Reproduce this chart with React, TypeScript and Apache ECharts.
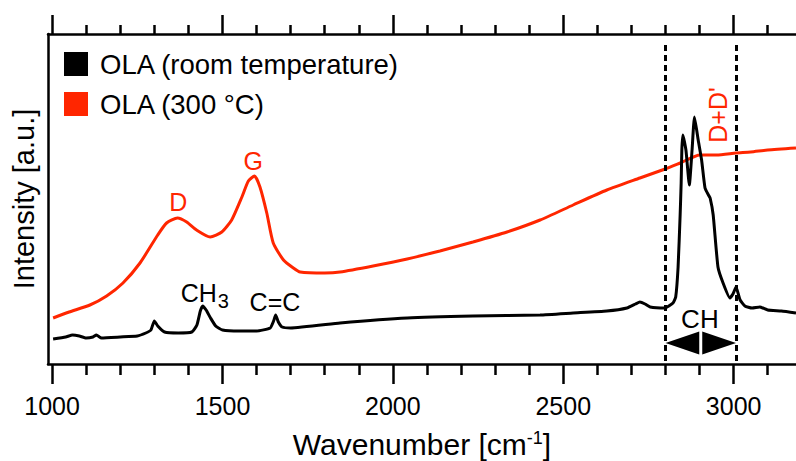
import React, { useEffect, useRef } from "react";
import * as echarts from "echarts";

// Raman spectra (wavenumber in cm^-1, intensity in arbitrary units)
const wavenumberRT = [
  1003, 1040, 1060, 1080, 1100, 1120, 1130, 1145, 1200, 1250, 1275, 1290, 1300, 1310, 1330, 1370, 1410,
  1425, 1435, 1442, 1452, 1465, 1480, 1500, 1550, 1600, 1640, 1650, 1656, 1664, 1675, 1700, 1845, 2042,
  2235, 2432, 2529, 2628, 2687, 2712, 2725, 2740, 2755, 2799, 2822, 2830, 2837, 2843, 2846, 2848, 2851,
  2860, 2870, 2878, 2885, 2896, 2906, 2916, 2926, 2931, 2940, 2954, 2969, 2989, 2998, 3007, 3019, 3033,
  3054, 3077, 3100, 3140, 3183,
];
const intensityRT = [
  25, 27, 29, 28, 26, 27, 29, 26, 27, 28, 31, 34, 43, 38, 32, 31, 32,
  39, 53, 58, 54, 46, 38, 34, 33, 33, 36, 43, 49, 42, 37, 36, 41, 46,
  48, 49, 51, 53, 56, 60, 62, 60, 57, 56, 61, 67, 97, 149, 181, 214, 229,
  214, 179, 214, 247, 224, 204, 176, 169, 166, 149, 97, 81, 66, 70, 77, 64, 58,
  56, 57, 54, 53, 51,
];
const wavenumber300 = [
  1003, 1050, 1111, 1160, 1208, 1258, 1310, 1336, 1368, 1395, 1424, 1464, 1498, 1527, 1557, 1576, 1594,
  1610, 1630, 1649, 1679, 1708, 1728, 1800, 1845, 1942, 2042, 2138, 2235, 2335, 2432, 2529, 2628, 2725,
  2799, 2843, 2901, 2950, 3007, 3050, 3100, 3183,
];
const intensity300 = [
  46, 52, 59, 68, 81, 101, 129, 141, 146, 142, 134, 127, 132, 144, 167, 183, 188,
  177, 151, 121, 104, 96, 92, 91, 92, 98, 105, 113, 122, 132, 144, 159, 174, 186,
  195, 201, 209, 209, 211, 212, 214, 216,
];

const seriesNames = ["OLA (room temperature)", "OLA (300 °C)"];
const seriesColors = ["#000000", "#ff2600"];

const majorTicks = [1000, 1500, 2000, 2500, 3000];
const minorTicks = [1100, 1200, 1300, 1400, 1600, 1700, 1800, 1900, 2100, 2200, 2300, 2400, 2600, 2700, 2800, 2900, 3100];
const xMin = 988;
const xMax = 3183;
const yMin = 0;
const yMax = 330;

// C-H stretching region boundaries
const chRegion = [2800, 3007];
const chLineTop = 319;
const chArrowLevel = 21;

// annotations: text, anchor wavenumber, anchor intensity
const annotationTexts = ["D", "G", "CH{sub|3}", "C=C", "CH", "D+D'"];
const annotationWavenumbers = [1370, 1590, 1448, 1654, 2901, 2954];
const annotationIntensities = [162, 203, 71, 62, 45, 249];
const annotationColors = ["#ff2600", "#ff2600", "#000000", "#000000", "#000000", "#ff2600"];
const annotationRotated = [false, false, false, false, false, true];

const FONT = "'Liberation Sans', Arial, Helvetica, sans-serif";

export default function App() {
  const ref = useRef<HTMLDivElement>(null);

  useEffect(() => {
    if (!ref.current) return;
    const chart = echarts.init(ref.current, undefined, { renderer: "svg" });

    const xBase = {
      type: "value",
      min: xMin,
      max: xMax,
      splitLine: { show: false },
      nameMoveOverlap: false,
    };
    const axisLineStyle = { color: "#000", width: 2.5 };

    const option: any = {
      animation: false,
      backgroundColor: "#fff",
      textStyle: { fontFamily: FONT },
      grid: { left: 48, right: 0, top: 34, bottom: 97, containLabel: false, outerBoundsMode: "none" },
      legend: {
        data: seriesNames,
        orient: "vertical",
        left: 64,
        top: 50,
        padding: 0,
        itemWidth: 24,
        itemHeight: 24,
        itemGap: 12,
        icon: "rect",
        selectedMode: false,
        textStyle: { fontSize: 27.5, color: "#000", fontFamily: FONT, padding: [0, 0, 0, 7] },
      },
      xAxis: [
        {
          ...xBase,
          position: "bottom",
          name: "Wavenumber [cm{sup|-1}]",
          nameLocation: "middle",
          nameGap: 65,
          nameTextStyle: {
            fontSize: 30,
            color: "#000",
            fontFamily: FONT,
            rich: {
              sup: { fontSize: 18, verticalAlign: "top", color: "#000", fontFamily: FONT },
            },
          },
          axisLine: { show: true, lineStyle: axisLineStyle },
          axisTick: { show: true, inside: false, length: 20, customValues: majorTicks, lineStyle: axisLineStyle },
          axisLabel: {
            show: true,
            customValues: majorTicks,
            fontSize: 25,
            color: "#000",
            margin: 29,
            fontFamily: FONT,
            formatter: (v: number) => String(v),
          },
        },
        {
          ...xBase,
          position: "bottom",
          axisLine: { show: false },
          axisTick: { show: true, inside: false, length: 11, customValues: minorTicks, lineStyle: axisLineStyle },
          axisLabel: { show: false },
        },
        {
          ...xBase,
          position: "top",
          axisLine: { show: true, lineStyle: axisLineStyle },
          axisTick: { show: true, inside: false, length: 19, customValues: majorTicks, lineStyle: axisLineStyle },
          axisLabel: { show: false },
        },
        {
          ...xBase,
          position: "top",
          axisLine: { show: false },
          axisTick: { show: true, inside: false, length: 9, customValues: minorTicks, lineStyle: axisLineStyle },
          axisLabel: { show: false },
        },
      ],
      yAxis: {
        type: "value",
        min: yMin,
        max: yMax,
        position: "left",
        name: "Intensity [a.u.]",
        nameLocation: "middle",
        nameGap: 10,
        nameMoveOverlap: false,
        nameTextStyle: { fontSize: 29, color: "#000", fontFamily: FONT },
        axisLine: { show: true, lineStyle: axisLineStyle },
        axisTick: { show: false },
        axisLabel: { show: false },
        splitLine: { show: false },
      },
      series: [
        {
          name: seriesNames[1],
          type: "line",
          xAxisIndex: 0,
          data: wavenumber300.map((w, i) => [w, intensity300[i]]),
          showSymbol: false,
          smooth: 0.2,
          lineStyle: { color: seriesColors[1], width: 3 },
          itemStyle: { color: seriesColors[1] },
          z: 2,
        },
        {
          name: seriesNames[0],
          type: "line",
          xAxisIndex: 0,
          data: wavenumberRT.map((w, i) => [w, intensityRT[i]]),
          showSymbol: false,
          smooth: 0.15,
          lineStyle: { color: seriesColors[0], width: 3 },
          itemStyle: { color: seriesColors[0] },
          z: 3,
          markLine: {
            silent: true,
            symbol: "none",
            label: { show: false },
            lineStyle: { color: "#000", width: 3, type: [6, 4] },
            data: chRegion.map((x) => [{ coord: [x, chLineTop] }, { coord: [x, yMin] }]),
          },
        },
        {
          type: "custom",
          xAxisIndex: 0,
          silent: true,
          z: 5,
          data: [[chRegion[0], chRegion[1], chArrowLevel]],
          renderItem: (_params: any, api: any) => {
            const l = api.coord([api.value(0), api.value(2)]);
            const r = api.coord([api.value(1), api.value(2)]);
            const mid = (l[0] + r[0]) / 2;
            const h = 11.5;
            return {
              type: "group",
              children: [
                {
                  type: "polygon",
                  shape: { points: [[l[0], l[1]], [mid - 1.5, l[1] - h], [mid - 1.5, l[1] + h]] },
                  style: { fill: "#000" },
                },
                {
                  type: "polygon",
                  shape: { points: [[r[0], r[1]], [mid + 1.5, r[1] - h], [mid + 1.5, r[1] + h]] },
                  style: { fill: "#000" },
                },
              ],
            };
          },
        },
        {
          type: "custom",
          xAxisIndex: 0,
          silent: true,
          z: 6,
          data: annotationWavenumbers.map((w, i) => [w, annotationIntensities[i]]),
          renderItem: (params: any, api: any) => {
            const i = params.dataIndex;
            const p = api.coord([api.value(0), api.value(1)]);
            return {
              type: "text",
              x: p[0],
              y: p[1],
              rotation: annotationRotated[i] ? Math.PI / 2 : 0,
              style: {
                text: annotationTexts[i],
                fill: annotationColors[i],
                fontSize: i === 4 ? 26 : 25,
                fontFamily: FONT,
                align: "center",
                verticalAlign: "middle",
                rich: {
                  sub: { fontSize: 20, fontFamily: FONT, fill: annotationColors[i], padding: [16, 0, 0, 1] },
                },
              },
            };
          },
        },
      ],
    };

    chart.setOption(option);
    return () => chart.dispose();
  }, []);

  return (
    <div
      ref={ref}
      style={{ position: "fixed", left: 0, top: 0, width: 796, height: 461, background: "#fff" }}
    />
  );
}
